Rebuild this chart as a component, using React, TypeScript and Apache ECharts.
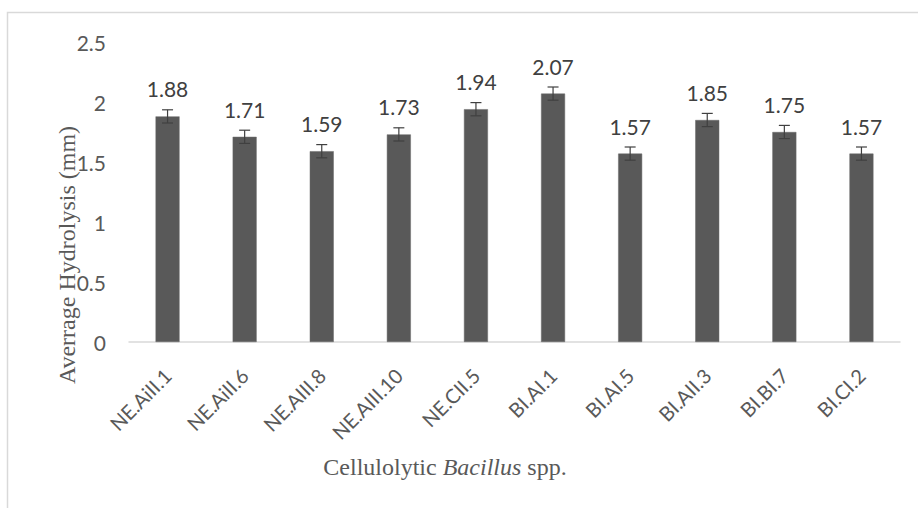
import React, { useEffect, useRef } from "react";
import * as echarts from "echarts";

const categories = [
  "NE.AiII.1",
  "NE.AiII.6",
  "NE.AIII.8",
  "NE.AIII.10",
  "NE.CII.5",
  "BI.AI.1",
  "BI.AI.5",
  "BI.AII.3",
  "BI.BI.7",
  "BI.CI.2",
];
const values = [1.88, 1.71, 1.59, 1.73, 1.94, 2.07, 1.57, 1.85, 1.75, 1.57];
const errors = [0.055, 0.055, 0.055, 0.055, 0.055, 0.055, 0.055, 0.055, 0.055, 0.055];
const yTicks = { min: 0, max: 2.5, interval: 0.5 };

export default function App() {
  const ref = useRef<HTMLDivElement>(null);
  useEffect(() => {
    if (!ref.current) return;
    const chart = echarts.init(ref.current, null, { renderer: "svg" });
    const sans = "Lato, 'Noto Sans', sans-serif";
    const serif = "'Liberation Serif', 'DejaVu Serif', serif";
    chart.setOption({
      animation: false,
      backgroundColor: "#ffffff",
      grid: { left: 129, right: 18, top: 42, bottom: 166, containLabel: false },
      xAxis: {
        type: "category",
        data: categories,
        axisLine: { show: true, lineStyle: { color: "#d9d9d9", width: 1.5 } },
        axisTick: { show: false },
        axisLabel: {
          rotate: 45,
          interval: 0,
          margin: 30,
          color: "#595959",
          fontFamily: sans,
          fontSize: 20,
        },
      },
      yAxis: {
        type: "value",
        min: yTicks.min,
        max: yTicks.max,
        interval: yTicks.interval,
        axisLine: { show: false },
        axisTick: { show: false },
        splitLine: { show: false },
        axisLabel: {
          margin: 23,
          color: "#595959",
          fontFamily: sans,
          fontSize: 21,
        },
      },
      series: [
        {
          type: "bar",
          data: values,
          barWidth: 24,
          itemStyle: { color: "#595959", borderColor: "#6a6a6a", borderWidth: 0.5 },
          label: {
            show: true,
            position: "top",
            distance: 17,
            color: "#404040",
            fontFamily: sans,
            fontSize: 21,
            formatter: (p: any) => p.value.toFixed(2),
          },
          z: 2,
        },
        {
          type: "custom",
          data: values.map((v, i) => [i, v - errors[i], v + errors[i]]),
          renderItem: (params: any, api: any) => {
            const x = api.value(0);
            const lo = api.coord([x, api.value(1)]);
            const hi = api.coord([x, api.value(2)]);
            const hw = 5.5;
            const style = { stroke: "#404040", lineWidth: 1.2 };
            return {
              type: "group",
              children: [
                { type: "line", shape: { x1: hi[0], y1: hi[1], x2: lo[0], y2: lo[1] }, style },
                { type: "line", shape: { x1: hi[0] - hw, y1: hi[1], x2: hi[0] + hw, y2: hi[1] }, style },
                { type: "line", shape: { x1: lo[0] - hw, y1: lo[1], x2: lo[0] + hw, y2: lo[1] }, style },
              ],
            };
          },
          z: 3,
        },
      ],
      graphic: [
        {
          type: "rect",
          shape: { x: 7.5, y: 12.5, width: 1000, height: 1000 },
          style: { fill: "none", stroke: "#d9d9d9", lineWidth: 1.5 },
          silent: true,
        },
        {
          type: "text",
          x: 67,
          y: 255,
          rotation: Math.PI / 2,
          style: {
            text: "Averrage Hydrolysis (mm)",
            font: `24px ${serif}`,
            fill: "#595959",
            align: "center",
            verticalAlign: "middle",
          },
        },
        {
          type: "text",
          x: 445,
          y: 467,
          style: {
            text: "{a|Cellulolytic }{b|Bacillus}{a| spp.}",
            align: "center",
            verticalAlign: "middle",
            rich: {
              a: { fontFamily: serif, fontSize: 24, fill: "#595959", color: "#595959" },
              b: { fontFamily: serif, fontSize: 24, fontStyle: "italic", fill: "#595959", color: "#595959" },
            },
          },
        },
      ],
    });
    return () => chart.dispose();
  }, []);
  return (
    <div
      ref={ref}
      style={{ position: "fixed", left: 0, top: 0, width: 918, height: 508 }}
    />
  );
}
